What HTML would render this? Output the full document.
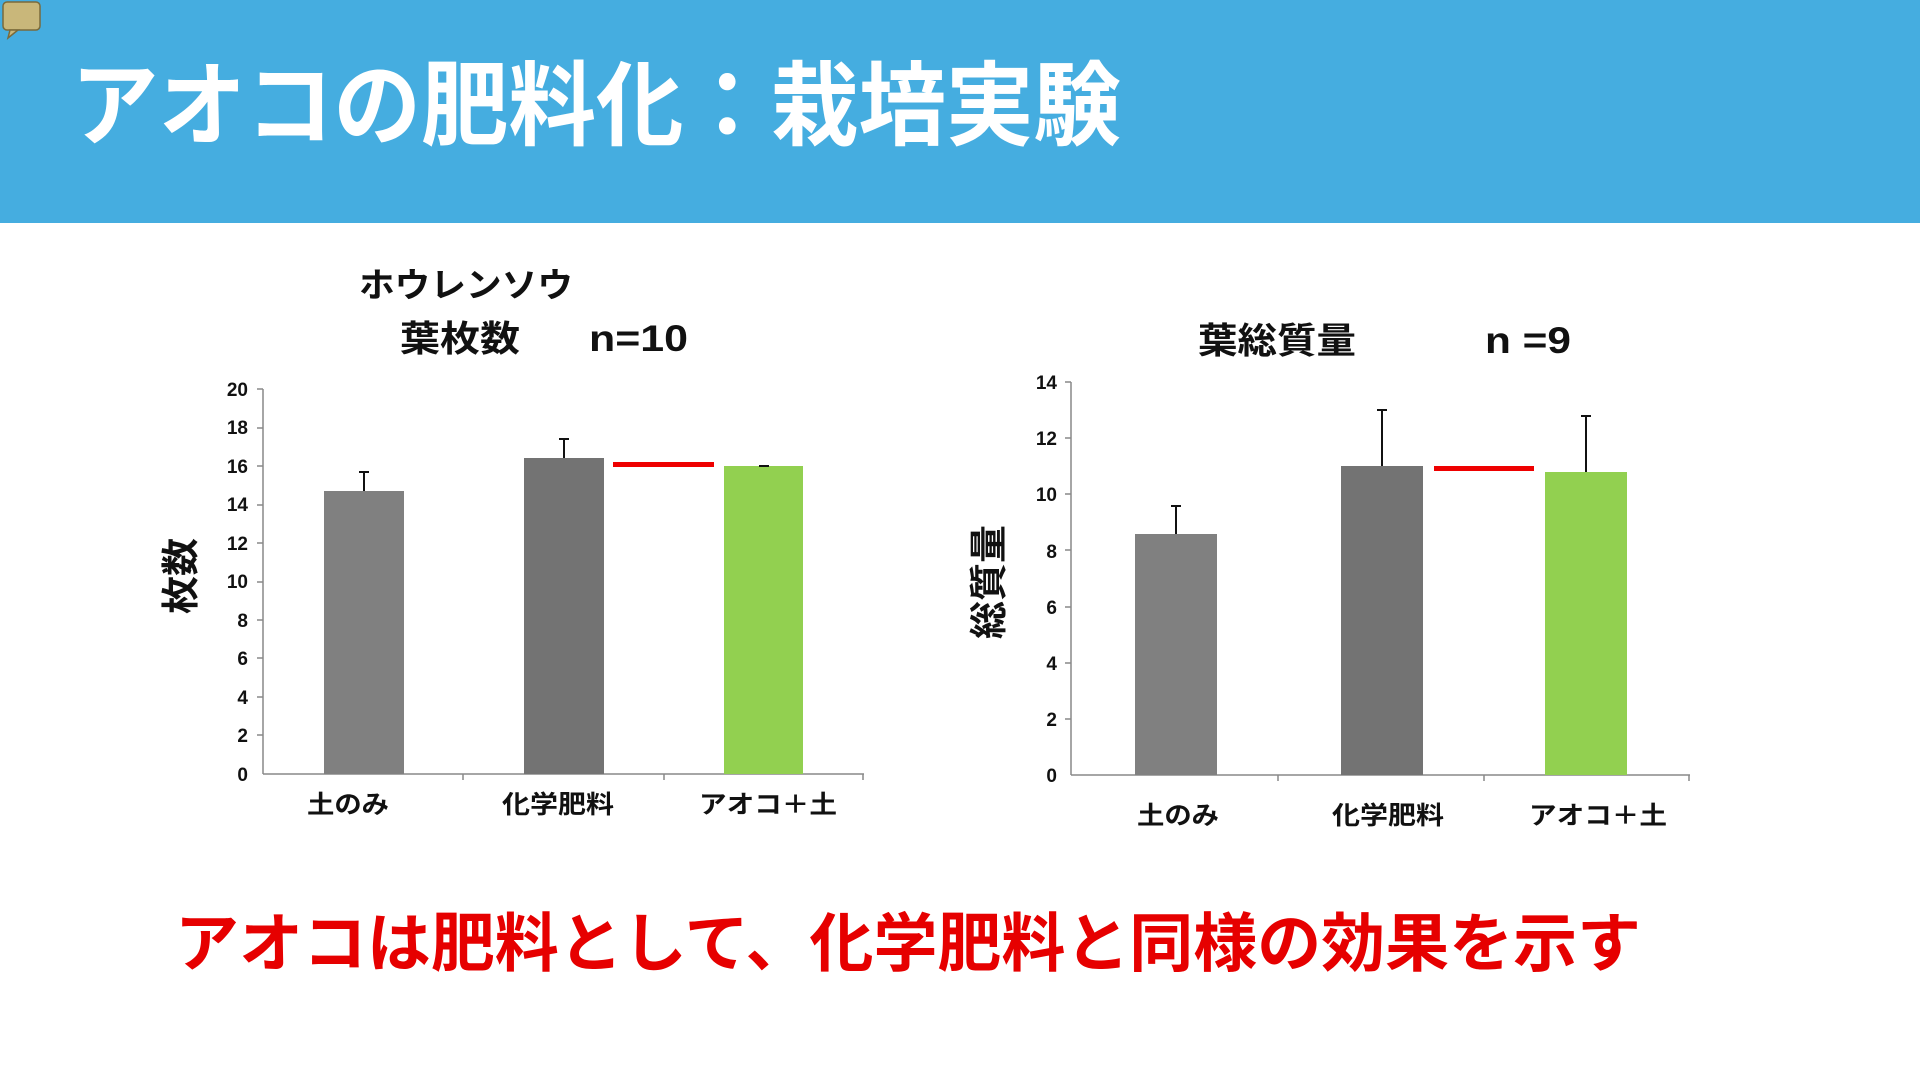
<!DOCTYPE html>
<html><head><meta charset="utf-8"><style>
html,body{margin:0;padding:0;background:#fff;}
svg{display:block;}
text{font-family:"Liberation Sans","Noto Sans CJK JP",sans-serif;}
</style></head><body>
<svg width="1920" height="1080" viewBox="0 0 1920 1080" xmlns="http://www.w3.org/2000/svg">
<rect x="0" y="0" width="1920" height="223" fill="#45ADE0"/>
<rect x="3" y="2" width="37" height="28" rx="4" fill="#c9b77a" stroke="#7a6a3a" stroke-width="1.5"/>
<path d="M10 30 L8 38 L18 30 Z" fill="#c9b77a" stroke="#7a6a3a" stroke-width="1.5"/>
<text x="71" y="138" font-size="92" font-weight="bold" fill="#fff" textLength="1050" lengthAdjust="spacingAndGlyphs">アオコの肥料化：栽培実験</text>

<!-- Left chart -->
<text x="359" y="297" font-size="34" font-weight="bold" fill="#111" textLength="214" lengthAdjust="spacingAndGlyphs">ホウレンソウ</text>
<text x="400" y="351" font-size="36" font-weight="bold" fill="#111" textLength="120" lengthAdjust="spacingAndGlyphs">葉枚数</text>
<text x="589" y="351" font-size="37" font-weight="bold" fill="#111" textLength="99" lengthAdjust="spacingAndGlyphs">n=10</text>
<g font-size="19" font-weight="bold" fill="#111" text-anchor="end">
<text x="248" y="781">0</text><text x="248" y="742">2</text><text x="248" y="704">4</text>
<text x="248" y="665">6</text><text x="248" y="627">8</text><text x="248" y="588">10</text>
<text x="248" y="550">12</text><text x="248" y="511">14</text><text x="248" y="473">16</text>
<text x="248" y="434">18</text><text x="248" y="396">20</text>
</g>
<g stroke="#888" stroke-width="1.5">
<line x1="263" y1="389" x2="263" y2="774"/><line x1="263" y1="774" x2="864" y2="774"/>
<line x1="463" y1="774" x2="463" y2="780"/><line x1="664" y1="774" x2="664" y2="780"/><line x1="863" y1="774" x2="863" y2="780"/>
<line x1="257" y1="389" x2="263" y2="389"/><line x1="257" y1="428" x2="263" y2="428"/><line x1="257" y1="466" x2="263" y2="466"/><line x1="257" y1="505" x2="263" y2="505"/><line x1="257" y1="543" x2="263" y2="543"/><line x1="257" y1="582" x2="263" y2="582"/><line x1="257" y1="620" x2="263" y2="620"/><line x1="257" y1="658" x2="263" y2="658"/><line x1="257" y1="697" x2="263" y2="697"/><line x1="257" y1="735" x2="263" y2="735"/>
</g>
<rect x="324" y="491" width="80" height="283" fill="#808080"/>
<rect x="524" y="458" width="80" height="316" fill="#737373"/>
<rect x="724" y="466" width="79" height="308" fill="#92D050"/>
<g stroke="#111" stroke-width="2">
<line x1="364" y1="491" x2="364" y2="472"/><line x1="359" y1="472" x2="369" y2="472"/>
<line x1="564" y1="458" x2="564" y2="439"/><line x1="559" y1="439" x2="569" y2="439"/>
<line x1="759" y1="466" x2="769" y2="466"/>
</g>
<rect x="613" y="462" width="101" height="5" fill="#e00"/>
<g font-size="25" font-weight="bold" fill="#111" text-anchor="middle">
<text x="348" y="813" textLength="82" lengthAdjust="spacingAndGlyphs">土のみ</text><text x="558" y="813" textLength="112" lengthAdjust="spacingAndGlyphs">化学肥料</text><text x="768" y="813" textLength="138" lengthAdjust="spacingAndGlyphs">アオコ＋土</text>
</g>
<text transform="translate(194,576) rotate(-90)" font-size="38" font-weight="bold" fill="#111" text-anchor="middle">枚数</text>

<!-- Right chart -->
<text x="1198" y="353" font-size="36" font-weight="bold" fill="#111" textLength="158" lengthAdjust="spacingAndGlyphs">葉総質量</text>
<text x="1485" y="353" font-size="37" font-weight="bold" fill="#111" textLength="86" lengthAdjust="spacingAndGlyphs">n =9</text>
<g font-size="19" font-weight="bold" fill="#111" text-anchor="end">
<text x="1057" y="782">0</text><text x="1057" y="726">2</text><text x="1057" y="670">4</text>
<text x="1057" y="614">6</text><text x="1057" y="558">8</text><text x="1057" y="501">10</text>
<text x="1057" y="445">12</text><text x="1057" y="389">14</text>
</g>
<g stroke="#888" stroke-width="1.5">
<line x1="1071" y1="382" x2="1071" y2="775"/><line x1="1071" y1="775" x2="1690" y2="775"/>
<line x1="1278" y1="775" x2="1278" y2="781"/><line x1="1484" y1="775" x2="1484" y2="781"/><line x1="1689" y1="775" x2="1689" y2="781"/>
<line x1="1065" y1="382" x2="1071" y2="382"/><line x1="1065" y1="438" x2="1071" y2="438"/><line x1="1065" y1="494" x2="1071" y2="494"/><line x1="1065" y1="550" x2="1071" y2="550"/><line x1="1065" y1="607" x2="1071" y2="607"/><line x1="1065" y1="663" x2="1071" y2="663"/><line x1="1065" y1="719" x2="1071" y2="719"/>
</g>
<rect x="1135" y="534" width="82" height="241" fill="#808080"/>
<rect x="1341" y="466" width="82" height="309" fill="#737373"/>
<rect x="1545" y="472" width="82" height="303" fill="#92D050"/>
<g stroke="#111" stroke-width="2">
<line x1="1176" y1="534" x2="1176" y2="506"/><line x1="1171" y1="506" x2="1181" y2="506"/>
<line x1="1382" y1="466" x2="1382" y2="410"/><line x1="1377" y1="410" x2="1387" y2="410"/>
<line x1="1586" y1="472" x2="1586" y2="416"/><line x1="1581" y1="416" x2="1591" y2="416"/>
</g>
<rect x="1434" y="466" width="100" height="5" fill="#e00"/>
<g font-size="25" font-weight="bold" fill="#111" text-anchor="middle">
<text x="1178" y="824" textLength="82" lengthAdjust="spacingAndGlyphs">土のみ</text><text x="1388" y="824" textLength="112" lengthAdjust="spacingAndGlyphs">化学肥料</text><text x="1598" y="824" textLength="138" lengthAdjust="spacingAndGlyphs">アオコ＋土</text>
</g>
<text transform="translate(1002,582) rotate(-90)" font-size="38" font-weight="bold" fill="#111" text-anchor="middle">総質量</text>

<text x="175" y="966" font-size="64" font-weight="bold" fill="#e60000" textLength="1466" lengthAdjust="spacingAndGlyphs">アオコは肥料として、化学肥料と同様の効果を示す</text>
</svg>
</body></html>
